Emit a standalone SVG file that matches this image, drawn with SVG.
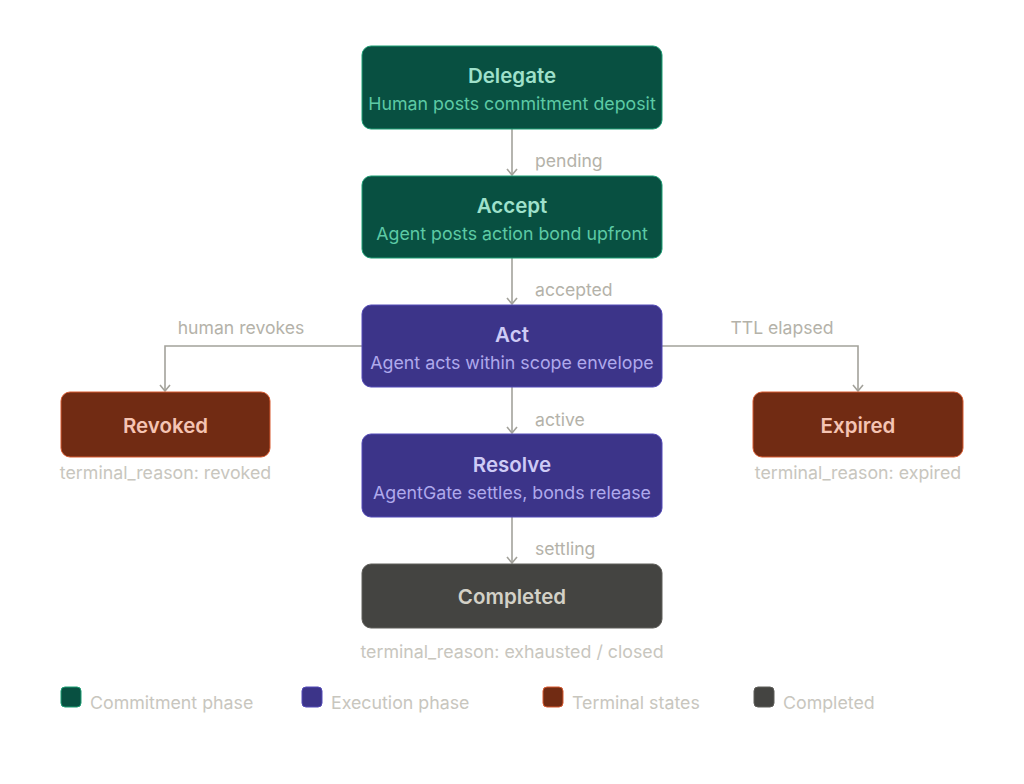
<svg xmlns="http://www.w3.org/2000/svg" width="1024" height="784" viewBox="0 0 1024 784">
<defs>
<marker id="arr" viewBox="0 0 12 12" refX="10.5" refY="6" markerWidth="12" markerHeight="12" markerUnits="userSpaceOnUse" orient="auto">
<path d="M4.5,1 L10.5,6 L4.5,11" fill="none" stroke="#A3A29B" stroke-width="1.6"/>
</marker>
<style>
text{font-family:Inter,"Noto Sans","Liberation Sans",sans-serif}
.t{font-size:20.5px;font-weight:600;text-anchor:middle}
.s{font-size:17.8px;text-anchor:middle}
.g rect{fill:#085041;stroke:#1D9E75;stroke-width:1}
.g .t{fill:#9FE1CB}.g .s{fill:#5DCAA5}
.p rect{fill:#3C3489;stroke:#534AB7;stroke-width:1}
.p .t{fill:#CECBF6}.p .s{fill:#AFA9EC}
.r rect{fill:#712B13;stroke:#D85A30;stroke-width:1}
.r .t{fill:#F5C4B3}
.k rect{fill:#444441;stroke:#5F5E5A;stroke-width:1}
.k .t{fill:#D3D1C7}
.lbl{font-size:17.6px;fill:#B4B2A9}
.note{font-size:17.8px;fill:#C8C6BE;text-anchor:middle}
.edge{fill:none;stroke:#A3A29B;stroke-width:1.6;marker-end:url(#arr)}
.leg{font-size:17.8px;fill:#C8C6BE}
</style>
</defs>
<rect width="1024" height="784" fill="#ffffff"/>
<g id="connectors">
<path class="edge" d="M512,129 V175"/>
<path class="edge" d="M512,258 V304"/>
<path class="edge" d="M512,387 V433"/>
<path class="edge" d="M512,517 V563"/>
<path class="edge" d="M362,346 H165 V391"/>
<path class="edge" d="M662,346 H858 V391"/>
<text class="lbl" x="535" y="167">pending</text>
<text class="lbl" x="535" y="296">accepted</text>
<text class="lbl" x="535" y="426">active</text>
<text class="lbl" x="535" y="555">settling</text>
<text class="lbl" x="241" y="334" text-anchor="middle">human revokes</text>
<text class="lbl" x="782" y="334" text-anchor="middle">TTL elapsed</text>
</g>
<g id="delegate" class="g">
<rect x="362" y="46" width="300" height="83" rx="9"/>
<text class="t" x="512" y="83">Delegate</text>
<text class="s" x="512" y="110">Human posts commitment deposit</text>
</g>
<g id="accept" class="g">
<rect x="362" y="176" width="300" height="82" rx="9"/>
<text class="t" x="512" y="213">Accept</text>
<text class="s" x="512" y="240">Agent posts action bond upfront</text>
</g>
<g id="act" class="p">
<rect x="362" y="305" width="300" height="82" rx="9"/>
<text class="t" x="512" y="342">Act</text>
<text class="s" x="512" y="369">Agent acts within scope envelope</text>
</g>
<g id="resolve" class="p">
<rect x="362" y="434" width="300" height="83" rx="9"/>
<text class="t" x="512" y="472">Resolve</text>
<text class="s" x="512" y="499">AgentGate settles, bonds release</text>
</g>
<g id="completed" class="k">
<rect x="362" y="564" width="300" height="64" rx="9"/>
<text class="t" x="512" y="604">Completed</text>
</g>
<text class="note" x="512" y="658">terminal_reason: exhausted / closed</text>
<g id="revoked" class="r">
<rect x="61" y="392" width="209" height="65" rx="9"/>
<text class="t" x="165.5" y="433">Revoked</text>
</g>
<text class="note" x="165.5" y="479">terminal_reason: revoked</text>
<g id="expired" class="r">
<rect x="753" y="392" width="210" height="65" rx="9"/>
<text class="t" x="858" y="433">Expired</text>
</g>
<text class="note" x="858" y="479">terminal_reason: expired</text>
<g id="legend">
<rect x="61" y="687" width="20" height="20" rx="4" fill="#085041" stroke="#1D9E75"/>
<text class="leg" x="90" y="709">Commitment phase</text>
<rect x="302" y="687" width="20" height="20" rx="4" fill="#3C3489" stroke="#534AB7"/>
<text class="leg" x="331" y="709">Execution phase</text>
<rect x="543" y="687" width="20" height="20" rx="4" fill="#712B13" stroke="#D85A30"/>
<text class="leg" x="572" y="709">Terminal states</text>
<rect x="754" y="687" width="20" height="20" rx="4" fill="#444441" stroke="#5F5E5A"/>
<text class="leg" x="783" y="709">Completed</text>
</g>
</svg>
